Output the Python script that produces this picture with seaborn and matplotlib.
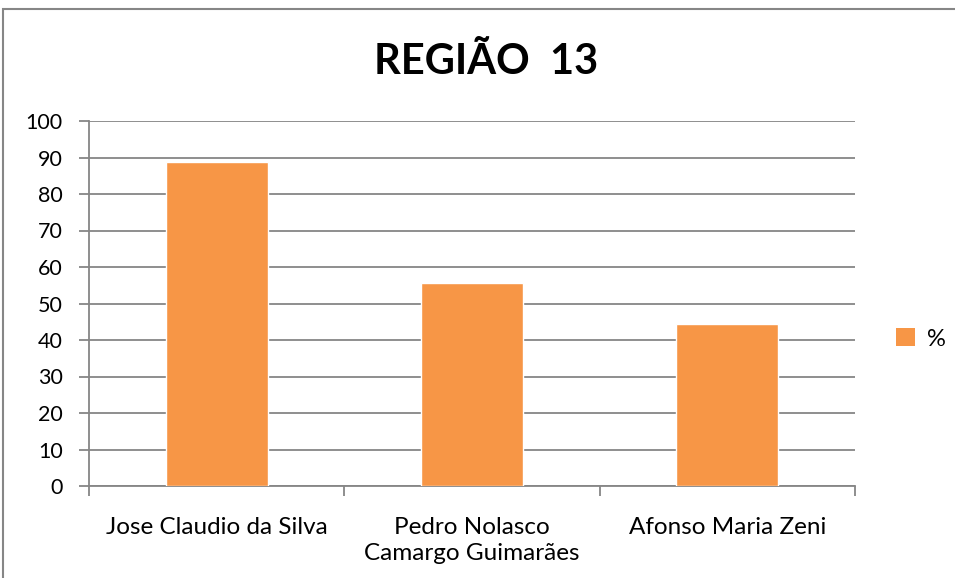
import matplotlib
matplotlib.use("Agg")
import matplotlib.pyplot as plt
import seaborn as sns
import pandas as pd
from matplotlib.patches import Rectangle, Patch

categories = ["Jose Claudio da Silva", "Pedro Nolasco\nCamargo Guimarães", "Afonso Maria Zeni"]
values = [88.9, 55.6, 44.4]
series_name = "%"
title = "REGIÃO  13"
yticks = list(range(0, 101, 10))

sns.set_theme(style="white")
plt.rcParams['font.family'] = ['Lato', 'DejaVu Sans']
plt.rcParams['text.color'] = 'black'

df = pd.DataFrame({"cat": categories, "val": values})

fig = plt.figure(figsize=(9.55, 5.78), dpi=100)
ax = fig.add_axes([89/955, 1-486/578, (855-89)/955, (486-121)/578])

sns.barplot(data=df, x="cat", y="val", color="#F79646", width=0.4, ax=ax,
            saturation=1, zorder=3)

ax.set_ylim(0, 100)
ax.set_xlim(-0.5, 2.5)
ax.set_yticks(yticks)
ax.set_yticklabels([str(t) for t in yticks], fontsize=15.5)
ax.set_xticks([0, 1, 2])
ax.set_xticklabels(categories, fontsize=17.5, linespacing=1.3)
ax.set_xticks([-0.5, 0.5, 1.5, 2.5], minor=True)
ax.tick_params(axis='x', which='major', bottom=False, length=0, pad=22)
ax.tick_params(axis='x', which='minor', bottom=True, length=7, width=1.3, color="#868686", direction='out')
ax.tick_params(axis='y', left=True, length=7, width=1.3, color="#868686", direction='out', pad=12)
ax.set_xlabel("")
ax.set_ylabel("")
ax.grid(axis='y', color="#868686", linewidth=1.3, zorder=0)
ax.set_axisbelow(True)
for s in ["top", "right"]:
    ax.spines[s].set_visible(False)
for s in ["left", "bottom"]:
    ax.spines[s].set_color("#868686")
    ax.spines[s].set_linewidth(1.3)
for lbl in ax.get_xticklabels() + ax.get_yticklabels():
    lbl.set_color("black")

fig.text(486/955, 1-62/578, title, ha="center", va="center", fontsize=30, fontweight="bold", color="black")

handles = [Patch(facecolor="#F79646", edgecolor="none", label=series_name)]
fig.legend(handles=handles, loc="center left", bbox_to_anchor=(875/955, 1-339/578),
           frameon=False, fontsize=17, handlelength=0.8, handleheight=0.8, handletextpad=0.5)

fig.patches.append(Rectangle((3/955, -0.1), 1.2, 1.1 - 9/578, transform=fig.transFigure,
                             fill=False, edgecolor="#868686", linewidth=1.5))

fig.savefig("out.png", dpi=100)
